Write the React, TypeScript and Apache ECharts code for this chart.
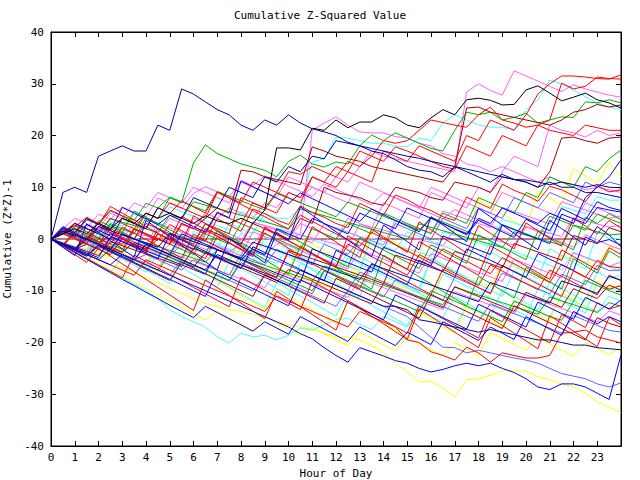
import React, { useEffect, useRef } from 'react';
import * as echarts from 'echarts';

const TITLE = 'Cumulative Z-Squared Value';
const X_NAME = 'Hour of Day';
const Y_NAME = 'Cumulative (Z*Z)-1';
const FONT = 'DejaVu Sans Mono';

const HOURS = [
  0, 0.5, 1, 1.5, 2, 2.5, 3, 3.5,
  4, 4.5, 5, 5.5, 6, 6.5, 7, 7.5,
  8, 8.5, 9, 9.5, 10, 10.5, 11, 11.5,
  12, 12.5, 13, 13.5, 14, 14.5, 15, 15.5,
  16, 16.5, 17, 17.5, 18, 18.5, 19, 19.5,
  20, 20.5, 21, 21.5, 22, 22.5, 23, 23.5,
  24,
];

const RED = '#ff0000';
const GREEN = '#00b000';
const BLUE = '#0000ff';
const NAVY = '#0000a0';
const MAGENTA = '#ff60ff';
const CYAN = '#40ffff';
const DARKRED = '#a00000';
const YELLOW = '#ffff00';
const BLACK = '#000000';
const SLATE = '#6060ff';

const s01 = [0, 9, 10, 9, 16, 17, 18, 17, 17, 22, 21, 29, 28, 26.5, 25, 24, 22, 21, 23, 22, 24, 22.4, 21.3, 20.7, 20, 18.7, 18, 17, 16.5, 15.3, 14, 13.3, 13, 12, 14, 13, 12, 11, 12.5, 11.5, 11, 10, 11, 10, 10, 9, 9, 8.5, 8];
const s02 = [0, 1, 2, 1, 3, 2, 4, 3, 5, 4, 5, 4, 3, 4.5, 3.5, 3, 4, 3, 5.6, 17.6, 17.6, 17.2, 21.4, 21, 23, 21.5, 22.6, 22.6, 24, 23.4, 22, 21.5, 23.4, 25, 24, 26.9, 27.2, 26.8, 25.9, 26, 28.8, 29.6, 28.2, 26.7, 27.4, 28.2, 26.9, 26.3, 25.3];
const s03 = [0, -1, -2, 0, -1, -2, 1, 0, -1, -2, -3, 0, -1, -2, -1.5, -2.5, -1, -2, -3, -1, 0, 1, 21, 22.4, 23.6, 22, 20.7, 20.5, 20.5, 19.8, 19.5, 18.5, 18, 16.5, 16, 14.5, 14, 13, 14, 13, 12, 11, 12, 11, 10.5, 9.5, 10, 9.5, 9];
const s04 = [0, 1, 0, -1, 2, 1, 0, 3, 2, 1, 4, 3, 2, 5, 4, 6, 5, 4, 7, 6, 9, 8, 10, 9, 12, 11, 14, 17, 16, 15.5, 15, 14.5, 14, 13.5, 13, 28.4, 30, 28.7, 27.8, 32.5, 31.5, 30.5, 29.5, 28.5, 29.8, 29, 28.4, 27.8, 27.4];
const s05 = [0, -1, 1, 0, -1, 2, 1, 0, 3, 2, 1, 0, -1, 3, 2, 1, 8, 7, 6, 9, 8, 7, 12, 11, 10, 13, 12, 11, 17, 16, 15, 18, 17, 16, 15, 20, 19, 23, 22, 21, 24, 28, 30, 31.5, 31.5, 31.3, 31, 30.9, 31.7];
const s06 = [0, 1, 0, -1, -2, 0, -1, 2, 1, 0, -1, 3, 2, 1, 5, 4, 3, 7, 6, 5, 9, 8, 12, 11, 14, 13, 17, 16, 19, 18.5, 19, 21, 23, 22.5, 22, 21.6, 24, 25.5, 23, 22.4, 21.6, 22, 23, 30.1, 29, 29.5, 31.3, 31, 30.9];
const s07 = [0, -1, -2, 1, 0, 3, 2, 1, 5, 4, 8, 7, 14.7, 18.2, 16.5, 15.5, 14.5, 13.9, 13.3, 12, 15, 16.2, 14.5, 13.9, 14.9, 14.5, 18, 20.1, 19, 20.5, 19.5, 18.5, 17.5, 17, 21, 24.5, 24, 24.5, 23, 23.5, 24.3, 22.4, 23, 23.6, 23.5, 26.5, 26.3, 26.9, 26.3];
const s08 = [0, -1, -2, -3, -4, -2, -3, -4, -5, -2, -3, -4, 0, -1, -2, 3, 2, 1, 5, 4, 4, 6, 14.9, 15.5, 19.7, 19.5, 19, 18.5, 18.5, 18, 17.8, 19.5, 19, 22.4, 24, 23, 22, 21.6, 21.6, 21.1, 25, 26.9, 30.7, 30, 28.8, 27.5, 26.3, 25.5, 25];
const s09 = [0, 2, 1, 0, -1, 1, 0, -1, -2, 0, -1, 3, 2, 4, 6, 5, 13.3, 13, 12, 11.5, 11, 10.5, 17.8, 17, 16, 15.5, 15, 14, 13.5, 13, 12.5, 12, 11.5, 11, 14, 25.3, 25.5, 24.5, 24, 23.5, 23, 22.5, 22, 23, 24.5, 25, 26, 25.5, 25.9];
const s10 = [0, 1, 3, 2, 1, 4, 3, 2, 5, 4, 7, 6, 5, 4, 9, 8, 7, 11, 10, 9, 13, 12.5, 14, 13, 12, 15, 14, 16, 15, 17.8, 17, 16, 15, 14, 13.5, 18, 17, 16, 20, 19, 18, 22, 21, 20.5, 20, 22, 21.5, 21, 21];
const s11 = [0, -1, 1, 0, -1, -2, 0, -1, -2, -3, -1, -2, 4, 3, 2, 1, 0, -1, 2, 1, 0, 3, 2, 1, 0, 4, 3, 2, 7, 6, 5, 4, 9, 8, 7, 6, 10, 9, 13, 16, 15, 14, 22, 21, 20.5, 19.7, 21, 20, 20.5];
const s12 = [0, -1, -2, -1, -2, -3, 0, -1, -2, 1, 0, -1, -2, 2, 1, 0, -1, 3, 2, 1, 0, 4, 3, 10, 9, 8.5, 8, 7, 6.5, 10, 9.5, 9, 8, 7.5, 11, 10.5, 10, 9, 12, 11.5, 11, 10, 13, 19.5, 19.7, 19, 18.5, 19.5, 19.7];
const s13 = [0, 2, 1, 0, -1, -2, 1, 0, -1, -2, -3, 1, 0, -1, -2, -3, -4, -2, -3, 2, 1, 0, 4, 3, 2, 1, 5, 4, 3, 2, 6, 5, 4, 3, 2, 1, 4, 3, 6, 5, 4, 3, 5, 4, 3, 8, 10, 12, 15.3];
const s14 = [0, -1, -2, -3, 0, -1, -2, 2, 1, 0, -1, -2, -3, 1, 0, -1, 3, 2, 1, 0, -1, -2, 2, 1, 0, 3, 2, 1, 5, 4, 3, 2, 1, 5, 4, 3, 8, 7, 6, 5, 9, 8, 12, 11, 10, 14, 13, 15.5, 17.2];
const s15 = [0, -1, -2, -3, -4, -2, -3, -4, -3, -4, -5, -6, -4, -5, -6, -7, -3, -4, -5, -2, -3, -4, -5, -1, -2, -3, 0, -1, -2, 3, 2, 1, 0, 4, 3, 2, 6, 5, 4, 8, 7, 6, 9, 8, 7, 11, 10, 11, 10.4];
const s16 = [0, 1, 3, 2, 1, 0, 4, 3, 2, 6, 5, 4, 8, 7, 6, 10, 9, 8, 12, 11, 14, 13, 16, 15.5, 19, 18.5, 18, 17.5, 17, 16.5, 16, 15.6, 15, 14.5, 14, 13.5, 13, 12.5, 12, 11.5, 11.4, 11, 10.5, 11, 10.5, 10, 10.5, 10, 9.9];
const s17 = [0, -1.2, -2.1, 0.6, -0.5, -1.8, -2.6, 1.9, 0.8, -0.3, 2.8, 1.6, 0.4, -0.4, 3.9, 2.7, 1.5, 5.8, 4.9, 3.7, 2.8, 6.4, 5.1, 4.2, 3, 2.2, 6.9, 5.8, 4.6, 8.5, 7.6, 6.3, 5.5, 4.3, 3.6, 8.1, 7, 5.9, 10.6, 9.4, 8.5, 7.3, 10.2, 9.5, 8.4, 7.2, 10.3, 9.1, 9.5];
const s18 = [0, -0.7, -1.4, -2.1, 1.5, 0.8, 0.1, -0.6, -1.3, -2, -2.7, 0.9, 0.2, -0.5, -1.2, -1.9, -2.6, -3.3, -4, -4.7, -1.8, -2.5, -3.2, -3.9, -4.6, -5.3, -6, 0.2, -0.5, -1.2, -1.9, -2.6, -3.3, 1.4, 0.7, 0, -0.7, -1.4, 3.8, 3.1, 2.4, 1.7, 1, 6.3, 5.6, 4.9, 8.2, 7.5, 7.5];
const s19 = [0, -1.4, -2.8, 1.6, 0.2, -1.2, -2.6, -4, -5.4, 0.9, -0.5, -1.9, -3.3, -4.7, -6.1, -7.5, -1.2, -2.6, -4, -5.4, -6.8, 0.5, -0.9, -2.3, -3.7, -5.1, -6.5, 2.1, 0.7, -0.7, -2.1, -3.5, 4.2, 2.8, 1.4, 0, 7.6, 6.2, 4.8, 3.4, 2, 9.3, 7.9, 6.5, 13.6, 12.2, 10.8, 14.7, 12];
const s20 = [0, -0.9, -1.8, -2.7, -3.6, 0.4, -0.5, -1.4, -2.3, -3.2, -4.1, -5, -5.9, -6.8, -2.1, -3, -3.9, -4.8, -5.7, -6.6, -7.5, -8.4, -1.9, -2.8, -3.7, -4.6, -5.5, -6.4, -1.6, -2.5, -3.4, -4.3, -5.2, 0.6, -0.3, -1.2, -2.1, -3, 2.7, 1.8, 0.9, 0, -0.9, 4.8, 3.9, 3, 6.1, 5.6, 5.2];
const s21 = [0, 2.3, 1.1, -0.1, 3.6, 2.4, 1.2, 5.4, 4.2, 3, 1.8, 0.6, -0.6, 2.9, 1.7, 0.5, -0.7, -1.9, -3.1, 1.8, 0.6, -0.6, -1.8, -3, -4.2, -5.4, 0.3, -0.9, -2.1, -3.3, -4.5, -5.7, -1.1, -2.3, -3.5, -4.7, 0.8, -0.4, -1.6, -2.8, -4, 1.5, 0.3, -0.9, -2.1, 4.2, 3, 4.9, 3.7];
const s22 = [0, 1.8, 1.2, 0.6, 0, 2.4, 1.8, 1.2, 0.6, 0, -0.6, 2.7, 2.1, 1.5, 0.9, 0.3, -0.3, 3.2, 2.6, 2, 1.4, 0.8, 0.2, -0.4, -1, -1.6, 2.9, 2.3, 1.7, 1.1, 0.5, -0.1, -0.7, -1.3, 1.8, 1.2, 0.6, 0, -0.6, -1.2, 2.3, 1.7, 1.1, 0.5, 4.1, 3.5, 2.9, 2.3, 2.7];
const s23 = [0, -1.5, 1.4, -0.1, 3.2, 1.7, 0.2, -1.3, -2.8, 2.1, 0.6, -0.9, 4.5, 3, 1.5, 0, -1.5, -3, 1.2, -0.3, -1.8, -3.3, 2.4, 0.9, -0.6, -2.1, -3.6, 1.9, 0.4, -1.1, -2.6, 3.3, 1.8, 0.3, -1.2, -2.7, 2.6, 1.1, -0.4, -1.9, 3.1, 1.6, 0.1, -1.4, 4, 2.5, 1, 3.6, 2.1];
const s24 = [0, -0.8, -1.6, -2.4, -3.2, -0.5, -1.3, -2.1, -2.9, -3.7, -4.5, -5.3, -1.8, -2.6, -3.4, -4.2, -5, -5.8, -6.6, -7.4, -2.2, -3, -3.8, -4.6, -5.4, -6.2, -7, -7.8, -8.6, -3.1, -3.9, -4.7, -5.5, -6.3, -2.4, -3.2, -4, -4.8, -5.6, -0.9, -1.7, -2.5, -3.3, -4.1, 0.7, -0.1, -0.9, 2.2, 1.4];
const s25 = [0, -1.3, -2.6, -3.9, -1.2, -2.5, -3.8, -5.1, -6.4, -2.9, -4.2, -5.5, -6.8, -8.1, -9.4, -4.4, -5.7, -7, -8.3, -9.6, -10.9, -4.7, -6, -7.3, -8.6, -9.9, -11.2, -5.1, -6.4, -7.7, -9, -10.3, -3.6, -4.9, -6.2, -7.5, -8.8, -2.5, -3.8, -5.1, -6.4, -7.7, -1.9, -3.2, -4.5, -5.8, 1.3, 0.1, 0];
const s26 = [0, 1.6, 0.5, 2.8, 1.7, 0.6, -0.5, -1.6, -2.7, -3.8, 0.9, -0.2, -1.3, -2.4, -3.5, -4.6, -5.7, -1.5, -2.6, -3.7, -4.8, -5.9, -7, -8.1, -2.2, -3.3, -4.4, -5.5, -6.6, -7.7, -8.8, -4.1, -5.2, -6.3, -7.4, -1.9, -3, -4.1, -5.2, -6.3, -7.4, -2.8, -3.9, -5, -6.1, 0.4, -0.7, -0.1, -1.2];
const s27 = [0, -0.7, -1.4, -2.1, -2.8, -3.5, -1.1, -1.8, -2.5, -3.2, -3.9, -4.6, -5.3, -6, -6.7, -3.4, -4.1, -4.8, -5.5, -6.2, -6.9, -7.6, -8.3, -9, -9.7, -6.1, -6.8, -7.5, -8.2, -8.9, -9.6, -10.3, -11, -6.4, -7.1, -7.8, -8.5, -9.2, -4.8, -5.5, -6.2, -6.9, -7.6, -3.1, -3.8, -4.5, -5.2, -1.4, -2.1];
const s28 = [0, -1.4, 1.9, 0.5, -0.9, 2.8, 1.4, 0, 4.1, 2.7, 1.3, -0.1, -1.5, -2.9, 1.6, 0.2, -1.2, -2.6, -4, -5.4, -6.8, -1.3, -2.7, -4.1, -5.5, -6.9, -8.3, -9.7, -3.1, -4.5, -5.9, -7.3, -8.7, -10.1, -11.5, -12.9, -7.2, -8.6, -10, -11.4, -5.5, -6.9, -8.3, -9.7, -3.8, -5.2, -6.6, -2.3, -3.7];
const s29 = [0, 1.2, 0.3, -0.6, 2.2, 1.3, 0.4, -0.5, -1.4, 3.1, 2.2, 1.3, 0.4, -0.5, -1.4, -2.3, -3.2, 1.4, 0.5, -0.4, -1.3, -2.2, -3.1, -4, -4.9, -5.8, -2.1, -3, -3.9, -4.8, -5.7, -6.6, -2.8, -3.7, -4.6, -5.5, -6.4, -7.3, -8.2, -3.9, -4.8, -5.7, -6.6, -7.5, -2.6, -3.5, -4.4, -5.3, -4.4];
const s30 = [0, 1.4, 2.6, 1.4, 0.2, -1, 2.3, 1.1, -0.1, -1.3, -2.5, -3.7, 0.9, -0.3, -1.5, -2.7, -3.9, -5.1, -6.3, -7.5, -2.4, -3.6, -4.8, -6, -7.2, -8.4, -9.6, -4.7, -5.9, -7.1, -8.3, -9.5, -10.7, -5.8, -7, -8.2, -9.4, -10.6, -5.1, -6.3, -7.5, -8.7, -9.9, -11.1, -6.2, -7.4, -4.1, -5.3, -5.6];
const s31 = [0, -1, -2, -0.3, -1.3, -2.3, -3.3, -4.3, -1.1, -2.1, -3.1, -4.1, -5.1, -6.1, -7.1, -8.1, -4.6, -5.6, -6.6, -7.6, -8.6, -9.6, -10.6, -6.2, -7.2, -8.2, -9.2, -10.2, -11.2, -7.9, -8.9, -9.9, -10.9, -11.9, -7.4, -8.4, -9.4, -10.4, -6.6, -7.6, -8.6, -9.6, -10.6, -6.8, -7.8, -8.8, -5.1, -6.1, -6];
const s32 = [0, -1.3, -2.6, -3.9, -5.2, -6.5, -3.4, -4.7, -6, -7.3, -8.6, -4.1, -5.4, -6.7, -8, -9.3, -10.6, -11.9, -13.2, -8.4, -9.7, -11, -12.3, -13.6, -14.9, -10.2, -11.5, -12.8, -14.1, -15.4, -16.7, -12.6, -13.9, -15.2, -11.1, -12.4, -13.7, -15, -9.8, -11.1, -12.4, -13.7, -8.2, -9.5, -10.8, -12.1, -6.3, -7.6, -7];
const s33 = [0, 1.5, 0.7, -0.1, 2.4, 1.6, 0.8, 0, -0.8, -1.6, 1.1, 0.3, -0.5, -1.3, -2.1, -2.9, -3.7, -0.6, -1.4, -2.2, -3, -3.8, -4.6, -5.4, -6.2, -7, -7.8, -4.9, -5.7, -6.5, -7.3, -8.1, -8.9, -9.7, -10.5, -11.3, -12.1, -8.4, -9.2, -10, -10.8, -11.6, -12.4, -8.1, -8.9, -9.7, -10.5, -7.2, -8];
const s34 = [0, 1.2, -0.1, -1.5, -2.8, -0.9, -2.2, -3.6, -4.9, -6.3, -2.8, -4.1, -5.5, -6.8, -8.2, -9.5, -10.9, -12.2, -13.6, -9.7, -11, -12.4, -13.7, -15.1, -16.4, -12.3, -13.6, -15, -16.3, -17.7, -19, -14.2, -15.5, -16.9, -18.2, -13.1, -14.4, -15.8, -17.1, -11.9, -13.2, -14.6, -15.9, -10.4, -11.7, -13.1, -8.1, -9.4, -8.9];
const s35 = [0, -1, -1.9, 0.4, -0.6, -1.5, -2.5, -0.7, -1.6, -2.6, -3.5, -4.5, -5.4, -2.7, -3.6, -4.6, -5.5, -6.5, -7.4, -8.4, -5.9, -6.8, -7.8, -8.7, -9.7, -10.6, -11.6, -12.5, -8.6, -9.5, -10.5, -11.4, -12.4, -13.3, -9.2, -10.2, -11.1, -12.1, -13, -14, -10.3, -11.3, -12.2, -13.2, -9.6, -10.6, -11.5, -8.9, -9.9];
const s36 = [0, -1, -2, -3, -4, -2, -3, -4, -5, -6, -3, -4, -5, -6, -7, -8, -4, -5, -6, -7, -8, -9, -10, -6, -7, -8, -9, -10, -11, -12, -13, -14, -10, -11, -12, -13, -14, -15, -16, -12, -13, -14, -15, -15.7, -12, -8, -9, -10, -10.8];
const s37 = [0, -1.1, -2.2, -3.3, -1.2, -2.3, -3.4, -4.5, -5.6, -6.7, -7.8, -8.9, -10, -11.1, -6.3, -7.4, -8.5, -9.6, -10.7, -11.8, -12.9, -7.9, -9, -10.1, -11.2, -12.3, -13.4, -14.5, -15.6, -10.8, -11.9, -13, -14.1, -15.2, -16.3, -17.4, -12.6, -13.7, -14.8, -15.9, -17, -12.2, -13.3, -14.4, -15.5, -11.3, -12.4, -13.5, -11.8];
const s38 = [0, -1.25, -2.5, -3.75, -5, -6.25, -7.5, -3.1, -4.35, -5.6, -6.85, -8.1, -9.35, -10.6, -11.85, -13.1, -7.4, -8.65, -9.9, -11.15, -12.4, -13.65, -8.2, -9.45, -10.7, -11.95, -13.2, -14.45, -15.7, -16.95, -18.2, -12.9, -14.15, -15.4, -16.65, -17.9, -19.15, -13.8, -15.05, -16.3, -17.55, -18.8, -20.05, -14.6, -15.85, -17.1, -12.3, -13.55, -12.8];
const s39 = [0, -0.85, -1.7, -0.4, -1.25, -2.1, -2.95, -3.8, -4.65, -5.5, -2.6, -3.45, -4.3, -5.15, -6, -6.85, -7.7, -8.55, -9.4, -6.2, -7.05, -7.9, -8.75, -9.6, -10.45, -11.3, -7.7, -8.55, -9.4, -10.25, -11.1, -11.95, -12.8, -13.65, -10.2, -11.05, -11.9, -12.75, -13.6, -14.45, -10.9, -11.75, -12.6, -13.45, -14.3, -15.15, -16, -13.9, -14.7];
const s40 = [0, -1.3, -2.5, -3.8, -5, -6.3, -7.5, -8.8, -10, -11.5, -13.7, -15, -16, -17, -18.9, -20.1, -18.2, -18.9, -18.6, -19.5, -18.6, -17.2, -17.6, -16.6, -15.6, -15.3, -16.5, -17.5, -15, -16, -17, -14, -15, -16, -17, -13, -14, -15, -16, -12, -13, -14, -15, -11, -12, -13, -14, -11, -12];
const s41 = [0, -1.5, -3, -4.5, -1.8, -3.3, -4.8, -6.3, -7.8, -9.3, -10.8, -12.3, -13.8, -7.9, -9.4, -10.9, -12.4, -13.9, -15.4, -10.1, -11.6, -13.1, -14.6, -16.1, -17.6, -11.9, -13.4, -14.9, -16.4, -17.9, -19.4, -13.5, -15, -16.5, -18, -19.5, -21, -15.2, -16.7, -18.2, -19.7, -21.2, -14.8, -16.3, -17.8, -19.3, -20.8, -15.1, -16.6];
const s42 = [0, -1, -2, -3, -1, -2, -3, -4, -5, -6, -7, -4, -5, -6, -7, -8, -9, -10, -7, -8, -9, -10, -11, -12, -13, -10, -11, -12, -13, -14, -15, -17, -19, -20.9, -21, -22, -21.5, -22, -22.5, -23, -23.4, -24, -25, -26, -26.5, -27, -28, -28.6, -27.8];
const s43 = [0, -1, -2, -3, -4, -5, -3, -4, -5, -6, -7, -8, -9, -10, -11, -12, -13, -14, -15, -16, -17, -18.3, -19.3, -21, -22.5, -23.8, -21, -21.8, -22.6, -23.5, -24, -25, -25.7, -25.2, -24.5, -24, -24.5, -24, -25, -25.8, -27, -28.6, -29.1, -28, -28, -28.6, -29.8, -31, -22.4];
const s44 = [0, -1, -2, -3, -4, -5, -5.5, -6.5, -7.5, -8.5, -9.5, -10.5, -11.5, -12.5, -13, -13.7, -14, -14.5, -15, -16, -16.6, -17, -17.5, -18.2, -18.9, -18.9, -19.5, -20.5, -22, -24, -25.7, -27.6, -27.5, -28.8, -30.5, -27.2, -27, -26.3, -25.5, -25.5, -25.5, -26.6, -27.2, -28, -28.6, -29.8, -31.5, -32.5, -33.6];
const s45 = [0, -1, -2, -3, -4, -5, -6, -7, -4, -5, -6, -7, -8, -9, -10, -11, -12, -13, -14, -11, -12, -13, -14, -15, -16, -17, -14, -15, -16, -17, -19.5, -20, -21.8, -22.5, -23.4, -20.9, -22, -23.8, -22, -22.5, -23, -23, -22.5, -18.2, -18, -17.6, -18.9, -19.5, -20.1];
const s46 = [0, -1, -2, 0, -1, -2, -3, -4, -1, -2, -3, -4, -5, -6, -3, -4, -5, -6, -7, -8, -9, -6, -7, -8, -9, -10, -11, -12, -13, -13, -13.7, -15.6, -16, -16.5, -17, -17.5, -18, -17.5, -18, -18.5, -19, -19.5, -19.5, -20, -20.5, -20.5, -21, -21.2, -21.4];
const s47 = [0, 0, 0, 0, 0, 0, 0, 0, 0, 0, 0, 0, 0, 0, 0, 0, 0, 0, 0, 0, 0, 0, 0, 0, 0, 0, 0, 0, 0, 0, 0, 0, 0, 0, 0, 0, 0, 0, 0, 0, 0, 0, 0, 0, 0, 0, null, null, null];
const s48 = [0, 1.3, 0.55, -0.2, -0.95, -1.7, 0.8, 0.05, -0.7, -1.45, -2.2, -2.95, -3.7, -4.45, -2.1, -2.85, -3.6, -4.35, -5.1, -5.85, -6.6, -7.35, -8.1, -5.2, -5.95, -6.7, -7.45, -8.2, -8.95, -9.7, -10.45, -11.2, -11.95, -12.7, -9.3, -10.05, -10.8, -11.55, -12.3, -13.05, -13.8, -14.55, -11.2, -11.95, -12.7, -13.45, -14.2, -12.3, -13];
const s49 = [0, 2.1, 0.9, -0.3, -1.5, -2.7, 1.2, 0, -1.2, -2.4, -3.6, -4.8, 1.5, 0.3, -0.9, -2.1, -3.3, -4.5, 0.4, -0.8, -2, -3.2, -4.4, -5.6, -6.8, -2.2, -3.4, -4.6, -5.8, -7, -8.2, -9.4, -3.9, -5.1, -6.3, -7.5, -8.7, -9.9, -11.1, -6.1, -7.3, -8.5, -9.7, -10.9, -12.1, -7.4, -8.6, -9.8, -9];
const s50 = [0, -0.8, -1.6, -2.4, 0.3, -0.5, -1.3, 1.8, 1, 0.2, -0.6, -1.4, -2.2, 1.5, 0.7, -0.1, -0.9, 3.3, 2.5, 1.7, 0.9, 0.1, -0.7, 2.9, 2.1, 1.3, 0.5, -0.3, -1.1, 3.6, 2.8, 2, 1.2, 5.4, 4.6, 3.8, 3, 2.2, 6.1, 5.3, 4.5, 3.7, 2.9, 7.2, 6.4, 5.6, 4.8, 4, 4.5];
const s51 = [0, -1.3, -2.6, -3.9, -5.2, -6.5, -7.8, -9, -10.3, -11.5, -12.8, -14, -15.2, -13, -14.2, -15.4, -16.6, -17.8, -16, -17.2, -18.4, -15, -16.2, -17.4, -18.6, -19.8, -17, -18.2, -19.4, -20.6, -18, -19.2, -20.4, -16, -17.2, -18.4, -19.6, -17, -18.2, -19.4, -15, -16.2, -17.4, -18.6, -14, -15.2, -16.4, -15, -16];
const s52 = [0, -1, -2.4, -3.5, -4.8, -6, -7.1, -8.5, -9.6, -10.8, -12, -13.3, -14.5, -15.6, -14, -15.3, -16.4, -17.7, -15, -16.2, -17.5, -18.6, -17, -18.3, -19.5, -20.6, -18, -19.2, -20.5, -21.5, -19, -20.2, -21.4, -22.5, -20, -21.3, -22.5, -18, -19.2, -20.4, -21.5, -19, -20.3, -21.5, -22.6, -20, -21.2, -22.3, -21];
const s53 = [0, 1.5, 0.3, -0.9, 2.5, 1.2, 0, -1.2, -2.4, 1, -0.2, -1.4, -2.6, -3.8, 0.5, -0.7, -1.9, -3.1, 2, 0.8, -0.4, -1.6, -2.8, -4, -5.2, -1, -2.2, -3.4, -4.6, -5.8, -7, -3, -4.2, -5.4, -6.6, -7.8, -9, -5, -6.2, -7.4, -8.6, -9.8, -6, -7.2, -8.4, -9.6, -10.8, -7, -8];
const s54 = [0, 2, 4, 3, 2, 5, 4, 7, 6, 9, 8, 7, 10, 9, 8, 7, 11, 10, 9, 8, 12, 11, 10, 9, 8, 7, 11, 10, 9, 8, 7, 6, 10, 9, 8, 7, 6, 5, 9, 8, 7, 6, 5, 4, 3, 7, 6, 5, 4];
const s55 = [0, -1.15, 1.2, 0.05, -1.1, -2.25, -3.4, 0.3, -0.85, -2, -3.15, -4.3, -5.45, -2.1, -3.25, -4.4, 1.2, 0.05, -1.1, -2.25, -3.4, -4.55, -5.7, -6.85, -8, -3.6, -4.75, -5.9, -7.05, -8.2, -9.35, -10.5, -11.65, -6.8, -7.95, -9.1, -10.25, -11.4, -12.55, -13.7, -14.85, -9.7, -10.85, -12, -13.15, -14.3, -8.6, -9.75, -10];
const s56 = [0, 1.3, 2.6, 1.95, 1.3, 3.9, 3.25, 2.6, 1.95, 1.3, 4.6, 3.95, 7.2, 6.55, 5.9, 5.25, 4.6, 3.95, 3.3, 2.65, 2, 5.8, 5.15, 4.5, 3.85, 3.2, 2.55, 1.9, 1.25, 0.6, -0.05, 2.9, 2.25, 1.6, 0.95, 0.3, -0.35, -1, -1.65, 1.4, 0.75, 0.1, -0.55, -1.2, 2.7, 2.05, 1.4, 0.75, 1];
const s57 = [0, -1.6, -3.2, 2.9, 1.3, -0.3, -1.9, -3.5, 3.6, 2, 0.4, -1.2, -2.8, -4.4, -6, 0.2, -1.4, -3, -4.6, 1.3, -0.3, 6.2, 4.6, 3, 1.4, -0.2, -1.8, -3.4, 2.7, 1.1, -0.5, -2.1, 4.3, 2.7, 1.1, -0.5, 5.9, 4.3, 2.7, 1.1, -0.5, -2.1, 3.6, 2, 0.4, -1.2, 2.4, 0.8, -1.5];
const s58 = [0, -1.1, -2.2, -3.3, -1.4, -2.5, -3.6, -4.7, -5.8, -6.9, -8, -4.5, -5.6, -6.7, -7.8, -8.9, -10, -11.1, -6.9, -8, -9.1, -10.2, -11.3, -12.4, -7.6, -8.7, -9.8, -10.9, -12, -13.1, -14.2, -15.3, -10.7, -11.8, -12.9, -14, -15.1, -16.2, -17.3, -12.9, -14, -15.1, -16.2, -17.3, -18.4, -19.5, -15.2, -16.3, -17];
const s59 = [0, 1.1, 0.15, -0.8, -1.75, 1.3, 0.35, -0.6, -1.55, -2.5, -3.45, -0.9, -1.85, -2.8, -3.75, -4.7, -5.65, -2.3, -3.25, -4.2, -5.15, -6.1, -7.05, -8, -8.95, -9.9, -6.4, -7.35, -8.3, -9.25, -10.2, -11.15, -12.1, -13.05, -14, -14.95, -15.9, -12.5, -13.45, -14.4, -15.35, -16.3, -17.25, -18.2, -14.8, -15.75, -16.7, -17.65, -18];
const s60 = [0, 2.2, 0.9, 4.1, 2.8, 6.3, 5, 3.7, 2.4, 1.1, -0.2, 4.4, 3.1, 1.8, 0.5, -0.8, -2.1, -3.4, 2.3, 1, -0.3, -1.6, -2.9, -4.2, -5.5, 0.6, -0.7, -2, -3.3, -4.6, -5.9, -0.5, -1.8, -3.1, -4.4, -5.7, -7, -1.3, -2.6, -3.9, -5.2, -6.5, -7.8, -2.1, -3.4, -4.7, -6, -1.7, -3];
const s61 = [0, 1.8, 0.9, 3.7, 2.8, 5.4, 4.5, 3.6, 6.9, 6, 8.1, 7.2, 6.3, 5.4, 9.2, 8.3, 7.4, 6.5, 5.6, 8.8, 7.9, 7, 6.1, 5.2, 4.3, 7.1, 6.2, 5.3, 4.4, 3.5, 2.6, 1.7, 4.2, 3.3, 2.4, 1.5, 0.6, -0.3, 2.8, 1.9, 1, 0.1, 4.4, 3.5, 2.6, 1.7, 4.8, 3.9, 3];
const s62 = [0, 1.2, 3.1, 2.1, 4.8, 3.8, 6.2, 5.2, 4.2, 7.9, 6.9, 5.9, 8.8, 10.1, 9.1, 8.1, 11.3, 10.3, 12.2, 11.2, 10.2, 9.2, 8.2, 10.6, 9.6, 8.6, 7.6, 6.6, 8.9, 7.9, 6.9, 5.9, 4.9, 3.9, 5.7, 4.7, 3.7, 2.7, 1.7, 0.7, 2.4, 1.4, 0.4, -0.6, -1.6, 0.8, -0.2, -1.2, -2];
const s63 = [0, 2.4, 1.3, 3.9, 2.8, 1.7, 6.1, 5, 3.9, 2.8, 4.6, 3.5, 2.4, 1.3, 5.2, 4.1, 11.2, 10.1, 9, 7.9, 6.8, 8.9, 7.8, 6.7, 5.6, 4.5, 3.4, 5.8, 4.7, 3.6, 2.5, 1.4, 4.1, 3, 1.9, 0.8, 3.6, 2.5, 1.4, 0.3, 3.8, 2.7, 1.6, 5.9, 4.8, 3.7, 7.2, 6.1, 5.5];
const s64 = [0, 1.1, 2.3, 4.2, 3, 5.6, 4.4, 3.2, 2, 6.1, 4.9, 7.4, 6.2, 5, 9.1, 7.9, 6.7, 5.5, 4.3, 3.1, 1.9, 4.6, 3.4, 2.2, 1, -0.2, -1.4, 1.3, 0.1, -1.1, -2.3, -3.5, -4.7, -1.9, -3.1, -4.3, -5.5, -6.7, -3.6, -4.8, -6, -7.2, -8.4, -4.9, -6.1, -7.3, -8.5, -9.7, -9];
const s65 = [0, 0.9, 2.1, 1.2, 0.3, 3.4, 2.5, 4.8, 3.9, 3, 6.2, 5.3, 4.4, 3.5, 2.6, 1.7, 5.3, 4.4, 3.5, 2.6, 1.7, 0.8, -0.1, -1, 2.2, 1.3, 0.4, -0.5, -1.4, -2.3, 1.4, 0.5, -0.4, -1.3, -2.2, -3.1, -4, -0.6, -1.5, -2.4, -3.3, -4.2, -5.1, -6, -2.7, -3.6, -4.5, -5.4, -6.3];

const SERIES: { values: (number | null)[]; color: string }[] = [
  { values: s47, color: '#700000' },
  { values: s44, color: YELLOW },
  { values: s52, color: YELLOW },
  { values: s40, color: CYAN },
  { values: s34, color: YELLOW },
  { values: s27, color: YELLOW },
  { values: s19, color: YELLOW },
  { values: s25, color: CYAN },
  { values: s32, color: CYAN },
  { values: s18, color: CYAN },
  { values: s49, color: CYAN },
  { values: s55, color: CYAN },
  { values: s65, color: CYAN },
  { values: s08, color: CYAN },
  { values: s22, color: MAGENTA },
  { values: s29, color: MAGENTA },
  { values: s39, color: MAGENTA },
  { values: s50, color: MAGENTA },
  { values: s54, color: MAGENTA },
  { values: s62, color: MAGENTA },
  { values: s11, color: MAGENTA },
  { values: s03, color: MAGENTA },
  { values: s04, color: MAGENTA },
  { values: s15, color: SLATE },
  { values: s31, color: SLATE },
  { values: s59, color: SLATE },
  { values: s42, color: SLATE },
  { values: s21, color: GREEN },
  { values: s28, color: GREEN },
  { values: s36, color: GREEN },
  { values: s48, color: GREEN },
  { values: s56, color: GREEN },
  { values: s61, color: GREEN },
  { values: s14, color: GREEN },
  { values: s07, color: GREEN },
  { values: s24, color: DARKRED },
  { values: s35, color: DARKRED },
  { values: s58, color: DARKRED },
  { values: s12, color: DARKRED },
  { values: s09, color: DARKRED },
  { values: s23, color: RED },
  { values: s30, color: RED },
  { values: s38, color: RED },
  { values: s41, color: RED },
  { values: s45, color: RED },
  { values: s53, color: RED },
  { values: s60, color: RED },
  { values: s64, color: RED },
  { values: s17, color: RED },
  { values: s10, color: RED },
  { values: s06, color: RED },
  { values: s05, color: RED },
  { values: s20, color: BLUE },
  { values: s26, color: BLUE },
  { values: s37, color: BLUE },
  { values: s51, color: BLUE },
  { values: s57, color: BLUE },
  { values: s63, color: BLUE },
  { values: s43, color: BLUE },
  { values: s13, color: BLUE },
  { values: s33, color: NAVY },
  { values: s46, color: NAVY },
  { values: s16, color: NAVY },
  { values: s01, color: NAVY },
  { values: s02, color: BLACK },
];

const textStyle = { fontFamily: FONT, fontSize: 11, color: '#000', fontWeight: 'normal' as const };

export default function App() {
  const ref = useRef<HTMLDivElement>(null);
  useEffect(() => {
    document.body.style.margin = '0';
    if (!ref.current) return;
    const chart = echarts.init(ref.current, undefined, { renderer: 'svg' });
    const axisBase = {
      type: 'value' as const,
      axisLine: { show: true, onZero: false, lineStyle: { color: '#000', width: 1 } },
      axisTick: { show: true, inside: true, length: 5, lineStyle: { color: '#000', width: 1 } },
      splitLine: { show: false },
    };
    chart.setOption({
      animation: false,
      backgroundColor: '#ffffff',
      title: {
        text: TITLE,
        left: 'center',
        top: 10,
        padding: 0,
        textStyle: { ...textStyle },
      },
      grid: {
        left: 51,
        right: 19,
        top: 32,
        bottom: 34,
        outerBoundsMode: 'none',
        containLabel: false,
        show: true,
        borderColor: '#000',
        borderWidth: 1,
        backgroundColor: 'transparent',
      },
      xAxis: [
        {
          ...axisBase,
          position: 'bottom',
          min: 0,
          max: 24,
          interval: 1,
          name: X_NAME,
          nameLocation: 'middle',
          nameGap: 21,
          nameTextStyle: { ...textStyle },
          axisLabel: {
            ...textStyle,
            margin: 6,
            formatter: (v: number) => (v >= 24 ? '' : String(v)),
          },
        },
        {
          ...axisBase,
          position: 'top',
          min: 0,
          max: 24,
          interval: 1,
          axisLabel: { show: false },
        },
      ],
      yAxis: [
        {
          ...axisBase,
          position: 'left',
          min: -40,
          max: 40,
          interval: 10,
          name: Y_NAME,
          nameLocation: 'middle',
          nameGap: 32,
          nameTextStyle: { ...textStyle },
          axisLabel: { ...textStyle, margin: 7 },
        },
        {
          ...axisBase,
          position: 'right',
          min: -40,
          max: 40,
          interval: 10,
          axisLabel: { show: false },
        },
      ],
      series: SERIES.map((s, i) => ({
        name: 'run' + (i + 1),
        type: 'line',
        xAxisIndex: 0,
        yAxisIndex: 0,
        showSymbol: false,
        symbol: 'none',
        silent: true,
        connectNulls: false,
        lineStyle: { width: 1, color: s.color },
        itemStyle: { color: s.color },
        data: s.values.map((v, k) => [HOURS[k], v]),
      })),
    });
    return () => chart.dispose();
  }, []);
  return <div ref={ref} style={{ width: 640, height: 480 }} />;
}
